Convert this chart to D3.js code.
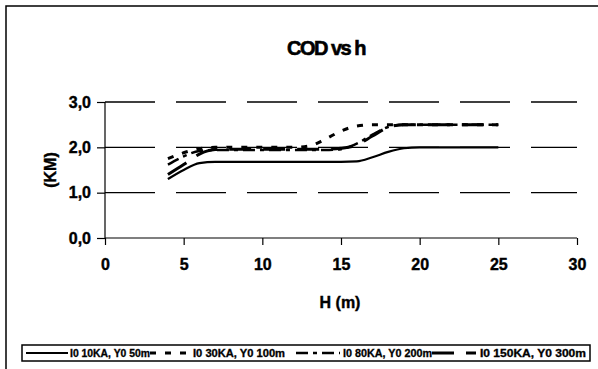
<!DOCTYPE html>
<html><head><meta charset="utf-8">
<script src="https://cdn.jsdelivr.net/npm/d3@7"></script>
<style>body{margin:0;background:#fff}svg{display:block}</style>
</head><body>
<svg id="c" width="598" height="369"></svg>
<script>
const H = [4,5,6,7,8,9,10,11,12,13,14,15,16,17,18,19,20,21,22,23,24,25];
const s1 = [1.30,1.50,1.65,1.68,1.68,1.68,1.68,1.68,1.68,1.68,1.68,1.68,1.69,1.78,1.90,1.98,2.00,2.00,2.00,2.00,2.00,2.00];
const s2 = [1.75,1.88,1.97,2.00,2.00,2.00,2.00,2.00,2.00,2.03,2.18,2.36,2.47,2.50,2.50,2.50,2.50,2.50,2.50,2.50,2.50,2.50];
const s3 = [1.62,1.80,1.92,1.94,1.94,1.94,1.94,1.94,1.94,1.94,1.94,1.96,2.08,2.28,2.45,2.50,2.50,2.50,2.50,2.50,2.50,2.50];
const s4 = [1.40,1.62,1.85,1.95,1.96,1.96,1.96,1.96,1.96,1.96,1.96,1.98,2.05,2.25,2.44,2.50,2.50,2.50,2.50,2.50,2.50,2.50];
const seriesNames = ["I0 10KA, Y0 50m","I0 30KA, Y0 100m","I0 80KA, Y0 200m","I0 150KA, Y0 300m"];
const xTicks = [0,5,10,15,20,25,30];
const yTicks = [0,1,2,3];
const title = "COD vs h", xTitle = "H (m)", yTitle = "(KM)";

const FF = "Liberation Sans, Arial, sans-serif";
const svg = d3.select("#c");
const styles = [
  {dash:null, w:2.2},
  {dash:"6,9", w:3},
  {dash:"12,5,4,5", w:2.5},
  {dash:"22,12", w:3}
];
svg.append("path").attr("d","M6,369 V6 H598").attr("fill","none").attr("stroke","#000").attr("stroke-width",1.5);

const x = d3.scaleLinear().domain([0,30]).range([105,577]);
const y = d3.scaleLinear().domain([0,3]).range([238,102]);

svg.append("g").selectAll("line").data(yTicks.filter(d=>d>0)).join("line")
  .attr("x1",x(0)).attr("x2",x(30)).attr("y1",d=>y(d)).attr("y2",d=>y(d))
  .attr("stroke","#000").attr("stroke-width",1.3).attr("stroke-dasharray","50,21");

const fmt = d => d.toFixed(1).replace(".", ",");
const yAx = svg.append("g").attr("transform",`translate(${x(0)},0)`)
  .call(d3.axisLeft(y).tickValues(yTicks).tickFormat(fmt).tickSize(8).tickPadding(6));
const xAx = svg.append("g").attr("transform",`translate(0,${y(0)})`)
  .call(d3.axisBottom(x).tickValues(xTicks).tickSize(7).tickPadding(14));
[yAx,xAx].forEach(a=>{
  a.select(".domain").attr("stroke","#000").attr("stroke-width",1.2);
  a.selectAll(".tick line").attr("stroke","#000").attr("stroke-width",1.2);
  a.selectAll("text").attr("font-family",FF).attr("font-size",16).attr("font-weight","bold")
    .attr("fill","#000").attr("stroke","#000").attr("stroke-width",0.4);
});
yAx.select(".domain").attr("d",`M0,${y(3)}V${y(0)}`);
xAx.select(".domain").attr("d",`M${x(0)},0H${x(30)}`);

const allS = [s1,s2,s3,s4];
const line = d3.line().x((d,i)=>x(H[i])).y(d=>y(d)).curve(d3.curveMonotoneX);
svg.append("g").selectAll("path").data(allS).join("path")
  .attr("d",d=>line(d)).attr("fill","none").attr("stroke","#000")
  .attr("stroke-width",(d,i)=>styles[i].w).attr("stroke-dasharray",(d,i)=>styles[i].dash);

svg.append("text").attr("x",326).attr("y",55).attr("text-anchor","middle")
  .attr("font-family",FF).attr("font-weight","bold").attr("font-size",20).attr("letter-spacing",-1.5)
  .attr("stroke","#000").attr("stroke-width",0.6).text(title);
svg.append("text").attr("x",340).attr("y",308).attr("text-anchor","middle")
  .attr("font-family",FF).attr("font-weight","bold").attr("font-size",16)
  .attr("stroke","#000").attr("stroke-width",0.4).text(xTitle);
svg.append("text").attr("transform","translate(56,170) rotate(-90)").attr("text-anchor","middle")
  .attr("font-family",FF).attr("font-weight","bold").attr("font-size",16)
  .attr("stroke","#000").attr("stroke-width",0.4).text(yTitle);

const lg = svg.append("g");
lg.append("rect").attr("x",22).attr("y",345).attr("width",568).attr("height",16).attr("fill","#fff").attr("stroke","#000").attr("stroke-width",1.5);
const items = [
  {x1:26,x2:68,tx:70,tw:80},
  {x1:150,x2:190,tx:193,tw:92},
  {x1:296,x2:340,tx:343,tw:89},
  {x1:432,x2:476,tx:480,tw:106}
];
items.forEach((it,i)=>{
  lg.append("line").attr("x1",it.x1).attr("x2",it.x2).attr("y1",353).attr("y2",353)
    .attr("stroke","#000").attr("stroke-width",styles[i].w).attr("stroke-dasharray",styles[i].dash);
  lg.append("text").attr("x",it.tx).attr("y",357).attr("font-family",FF)
    .attr("font-weight","bold").attr("font-size",10).attr("textLength",it.tw).attr("lengthAdjust","spacingAndGlyphs")
    .attr("stroke","#000").attr("stroke-width",0.3).text(seriesNames[i]);
});
</script>
</body></html>
